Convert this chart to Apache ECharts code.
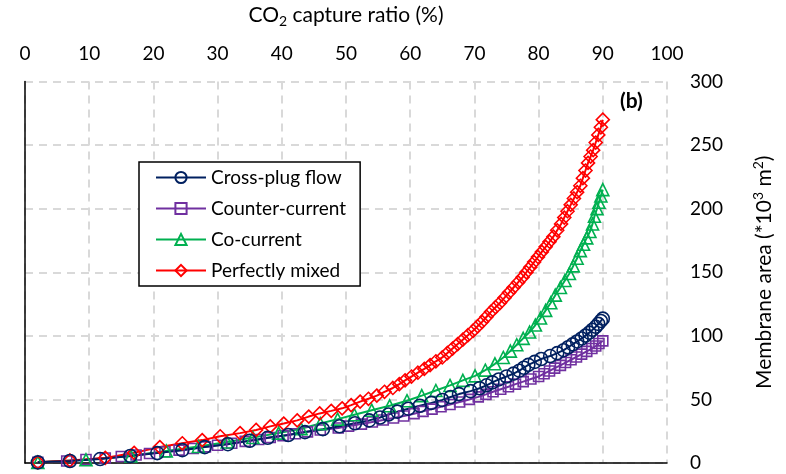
<!DOCTYPE html>
<html>
<head>
<meta charset="utf-8">
<script src="https://cdn.jsdelivr.net/npm/echarts@6/dist/echarts.min.js"></script>
<style>
  html, body { margin: 0; padding: 0; background: #fff; }
  #chart { width: 786px; height: 474px; }
</style>
</head>
<body>
<div id="chart"></div>
<script>
// x = CO2 capture ratio (%), y = membrane area (*10^3 m2)
const crossPlug = [
  [2, 0.5], [7, 1.6], [11.7, 3.1], [16.4, 5.5], [20.6, 7.8], [24.5, 10.1], [28, 12.5], [31.6, 14.8],
  [35, 17.5], [37.8, 19.8], [41, 22], [43.6, 24.3], [46.4, 26.6], [49, 28.9], [51.4, 31.2], [53.6, 33.5],
  [55.3, 35.8], [56.6, 38.1], [58, 40.4], [59.7, 42.7], [61.5, 45], [63.3, 47.3], [65, 49.6], [66.3, 51.9],
  [67.6, 54.2], [69.4, 56.5], [70.8, 58.8], [71.9, 61.1], [72.8, 63.4], [73.8, 65.7], [75, 68], [76.1, 70.3],
  [77, 72.6], [77.7, 74.9], [78.4, 77.2], [79.4, 79.5], [80.4, 81.8], [81.8, 84.1], [82.9, 86.4], [83.9, 88.7],
  [84.6, 91], [85.3, 93.3], [86, 95.6], [86.7, 97.9], [87.3, 100.2], [87.9, 102.5], [88.4, 104.8], [88.9, 107.1],
  [89.3, 109.4], [89.7, 111.7], [90, 113.5]
];
const counterCurrent = [
  [2, 0.5], [6.5, 1.6], [9.5, 2.7], [12.5, 3.9], [15, 5.1], [17.3, 6.3], [19.4, 7.5], [21.8, 8.8],
  [24, 10.1], [26.2, 11.4], [28.1, 12.7], [30, 14], [32.2, 15.5], [34.3, 17], [36.4, 18.5], [38.2, 20],
  [40.2, 21.5], [42.1, 23], [44, 24.5], [46, 26], [48.8, 27.5], [50.4, 29], [52.4, 30.6], [54.1, 32.2],
  [55.8, 33.8], [57.4, 35.4], [59, 37], [60.6, 38.8], [62, 40.6], [63.4, 42.4], [64.8, 44.2], [66.2, 46],
  [67.7, 48], [69.2, 50], [70.6, 52], [71.8, 54], [72.9, 56], [74.1, 58], [75.3, 60], [76.4, 62],
  [77.6, 64], [78.8, 66], [80, 68], [80.85, 70.2], [81.7, 72.4], [82.5, 74.6], [83.4, 76.8], [84.2, 79],
  [85.05, 81.2], [85.9, 83.4], [86.7, 85.6], [87.5, 87.8], [88.3, 90], [88.9, 92], [89.4, 94], [90, 96]
];
const coCurrent = [
  [2, 0.5], [9.5, 2.5], [16.5, 5.5], [22, 9.5], [27, 13], [31.5, 16.5], [35.5, 20], [39.5, 23.5],
  [43, 27], [46, 31], [48.7, 34.5], [51.3, 38], [54, 41.5], [56.8, 45], [59.5, 49], [61.8, 53],
  [64, 57], [66.2, 61], [68.2, 65], [70.1, 68.5], [71.7, 73], [73.2, 78], [74.5, 83], [75.6, 88],
  [76.6, 93], [77.6, 98], [78.6, 103], [79.5, 108.5], [80.3, 114], [81.1, 120], [81.9, 126], [82.6, 132],
  [83.4, 138], [84.1, 143.5], [84.8, 149], [85.4, 155], [86, 161], [86.5, 167], [87, 172], [87.5, 177],
  [88, 182], [88.4, 188], [88.7, 194], [89.1, 200], [89.4, 205], [89.7, 210], [90, 215]
];
const perfectlyMixed = [
  [2, 0.5], [7, 2], [12.5, 4], [17, 8], [21, 12.5], [24.5, 15.5], [27.6, 18], [30.4, 21],
  [33.5, 23.5], [36, 26], [38.2, 28.8], [40.3, 31], [42.4, 33.5], [44.2, 36.5], [45.9, 39], [47.7, 41],
  [49.4, 43], [50.8, 45.5], [52.2, 48.3], [53.5, 50.5], [54.8, 53], [56, 56], [57.3, 59], [58.3, 62],
  [59.2, 65], [60.2, 68], [61.2, 71], [62.2, 74], [63.1, 77], [64, 80], [65, 83], [65.8, 86.5],
  [66.6, 90], [67.4, 93.5], [68.2, 97], [69, 100.5], [69.8, 104], [70.5, 107.5], [71.2, 111], [71.9, 115],
  [72.6, 119], [73.3, 122.5], [74, 126], [74.7, 130], [75.4, 134], [76.1, 138], [76.8, 142], [77.5, 146],
  [78.1, 150], [78.7, 154], [79.3, 158], [79.9, 162], [80.5, 166], [81.1, 170], [81.7, 174], [82.3, 178],
  [82.9, 183], [83.5, 188], [84, 193], [84.5, 198], [85, 203], [85.5, 208], [86, 213], [86.5, 218],
  [86.9, 224], [87.3, 230], [87.7, 236], [88.1, 241], [88.5, 246], [88.9, 252], [89.3, 258], [89.7, 264],
  [90, 270]
];
const seriesNames = ['Cross-plug flow', 'Counter-current', 'Co-current', 'Perfectly mixed'];

const FONT = 'Lato';
const gridLine = { show: true, lineStyle: { color: '#d9d9d9', width: 2, type: [8, 6] } };

function mkSeries(name, data, symbol, size, color) {
  return {
    name: name,
    type: 'line',
    data: data,
    symbol: symbol,
    symbolSize: size,
    lineStyle: { color: color, width: 2 },
    itemStyle: { color: 'rgba(255,255,255,0)', borderColor: color, borderWidth: 1.6 },
    emphasis: { disabled: true }
  };
}

const chart = echarts.init(document.getElementById('chart'));
const option = {
  animation: false,
  backgroundColor: '#fff',
  grid: { left: 25, right: 119, top: 78, bottom: 11 },
  legend: {
    orient: 'vertical',
    left: 139,
    top: 162,
    data: seriesNames,
    backgroundColor: '#fff',
    borderColor: '#000',
    borderWidth: 1.5,
    borderRadius: 0,
    padding: [6, 14, 6, 16],
    itemWidth: 50,
    itemHeight: 14,
    itemGap: 12,
    textStyle: { fontFamily: FONT, fontSize: 19, color: '#000' }
  },
  xAxis: {
    type: 'value',
    position: 'top',
    min: 0,
    max: 100,
    interval: 10,
    name: 'CO{sub|2} capture ratio (%)',
    nameLocation: 'middle',
    nameGap: 53,
    nameTextStyle: {
      fontFamily: FONT, fontSize: 21, color: '#000',
      rich: { sub: { fontFamily: FONT, fontSize: 14, verticalAlign: 'bottom', padding: [12, 0, 0, 0], color: '#000' } }
    },
    axisLine: { show: true, lineStyle: { color: '#000', width: 1.5 } },
    axisTick: { show: false },
    axisLabel: { fontFamily: FONT, fontSize: 19, color: '#000', margin: 18 },
    splitLine: gridLine
  },
  yAxis: {
    type: 'value',
    position: 'right',
    min: 0,
    max: 300,
    interval: 50,
    name: 'Membrane area (*10{sup|3} m{sup|2})',
    nameLocation: 'middle',
    nameRotate: 90,
    nameGap: 84,
    nameTextStyle: {
      fontFamily: FONT, fontSize: 21, color: '#000',
      rich: { sup: { fontFamily: FONT, fontSize: 14, verticalAlign: 'top', padding: [0, 0, 12, 0], color: '#000' } }
    },
    axisLine: { show: true, lineStyle: { color: '#000', width: 1.5 } },
    axisTick: { show: false },
    axisLabel: { fontFamily: FONT, fontSize: 19, color: '#000', margin: 23, align: 'left' },
    splitLine: gridLine
  },
  graphic: [{
    type: 'text',
    left: 620,
    top: 91,
    style: { text: '(b)', fontFamily: FONT, fontSize: 21, fontWeight: 'bold', fill: '#000' }
  }],
  series: [
    mkSeries('Counter-current', counterCurrent, 'rect', 10, '#7030a0'),
    mkSeries('Co-current', coCurrent, 'triangle', 12, '#00b050'),
    mkSeries('Perfectly mixed', perfectlyMixed, 'diamond', 13, '#ff0000'),
    mkSeries('Cross-plug flow', crossPlug, 'circle', 13, '#002060')
  ]
};
chart.setOption(option);
</script>
</body>
</html>
